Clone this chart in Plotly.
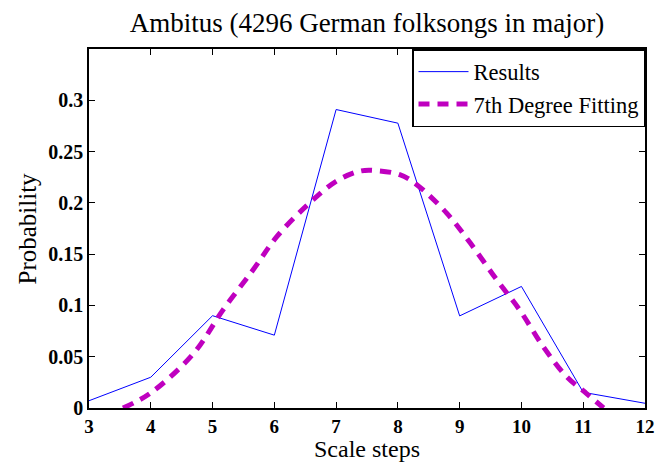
import plotly.graph_objects as go

steps = [3, 4, 5, 6, 7, 8, 9, 10, 11, 12]
prob = [0.0071, 0.030, 0.090, 0.071, 0.291, 0.2777, 0.0898, 0.1185, 0.0153, 0.0046]

fit_x = [3.55, 3.99, 4.69, 5.17, 5.66, 6.04, 6.52, 7.0, 7.39, 7.66, 8.03, 8.30, 8.79, 9.17, 9.60, 9.97, 10.35, 10.73, 11.05, 11.33]
fit_y = [0.0, 0.0143, 0.053, 0.0957, 0.135, 0.167, 0.197, 0.221, 0.231, 0.2314, 0.2275, 0.218, 0.190, 0.161, 0.125, 0.0957, 0.060, 0.0306, 0.0143, 0.0]

x_ticks = [3, 4, 5, 6, 7, 8, 9, 10, 11, 12]
y_ticks = [0, 0.05, 0.1, 0.15, 0.2, 0.25, 0.3]
y_tick_labels = ["0", "0.05", "0.1", "0.15", "0.2", "0.25", "0.3"]

font_fam = "Liberation Serif"

W, H = 658, 463
L, R, T, B = 89, 13, 49, 55
pw, ph = W - L - R, H - T - B

fig = go.Figure()
fig.add_trace(go.Scatter(x=steps, y=prob, mode="lines", name="Results",
                         line=dict(color="#0000ff", width=1)))
fig.add_trace(go.Scatter(x=fit_x, y=fit_y, mode="lines", name="7th Degree Fitting",
                         line=dict(color="#bf00bf", width=5, dash="11px,8px", shape="spline", smoothing=1.0)))

fig.update_layout(
    width=W, height=H,
    margin=dict(l=L, r=R, t=T, b=B, autoexpand=False),
    paper_bgcolor="white", plot_bgcolor="white",
    title=dict(text="Ambitus (4296 German folksongs in major)", x=(89 + 645) / 2 / W, xanchor="center",
               y=1 - 23 / H, yanchor="middle",
               font=dict(family=font_fam, size=27, color="black")),
    font=dict(family=font_fam, color="black"),
    showlegend=True,
    legend=dict(x=1, y=1, xanchor="right", yanchor="top",
                bgcolor="white", bordercolor="black", borderwidth=1.5,
                font=dict(family=font_fam, size=22.5, color="black"),
                tracegroupgap=0, itemwidth=50),
    annotations=[
        dict(text="Scale steps", xref="paper", yref="paper", x=0.5, y=-(449 - (T + ph)) / ph,
             xanchor="center", yanchor="middle", showarrow=False,
             font=dict(family=font_fam, size=24, color="black")),
        dict(text="Probability", xref="paper", yref="paper", x=(27 - L) / pw, y=0.5,
             xanchor="center", yanchor="middle", textangle=-90, showarrow=False,
             font=dict(family=font_fam, size=25, color="black")),
    ],
)

fig.update_xaxes(range=[3, 12], tickvals=x_ticks, ticktext=[str(v) for v in x_ticks],
                 ticks="inside", ticklen=6, tickwidth=1, tickcolor="black",
                 showline=True, linecolor="black", linewidth=1.5, mirror="ticks",
                 showgrid=False, zeroline=False, automargin=False,
                 tickfont=dict(family=font_fam, size=19, color="black", weight="bold"))
fig.update_yaxes(range=[0, 0.35], tickvals=y_ticks, ticktext=y_tick_labels,
                 ticks="inside", ticklen=6, tickwidth=1, tickcolor="black",
                 showline=True, linecolor="black", linewidth=1.5, mirror="ticks",
                 showgrid=False, zeroline=False, automargin=False,
                 tickfont=dict(family=font_fam, size=20, color="black", weight="bold"))

fig.write_html("out.html")
